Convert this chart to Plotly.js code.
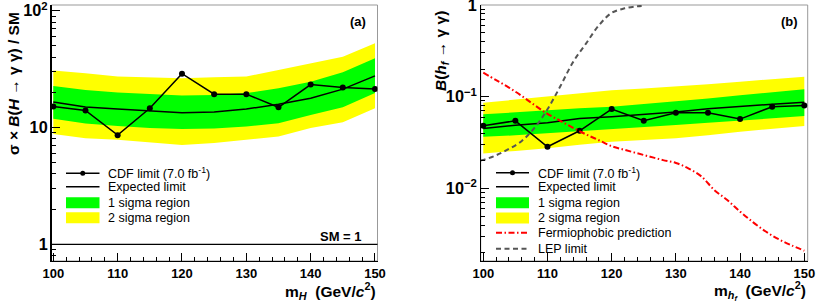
<!DOCTYPE html>
<html><head><meta charset="utf-8">
<script src="https://cdn.plot.ly/plotly-3.0.1.min.js"></script>
<style>html,body{margin:0;padding:0;background:#fff}#c{width:830px;height:305px}</style>
</head><body><div id="c"></div>
<script>
// ---- data ----
const mass = [100,105,110,115,120,125,130,135,140,145,150];
// panel (a)
const obsA  = [15.1,14.0,8.6,14.6,28.9,19.3,19.3,14.9,23.3,22.0,21.4];
const expA  = [16.5,15.0,14.4,13.9,13.4,13.6,14.4,15.8,17.8,21.3,27.7];
const s1upA = [22.7,21.0,19.9,19.3,18.8,19.0,19.7,21.7,24.7,29.7,39.2];
const s1loA = [11.9,10.8,10.3,9.9,9.7,9.8,10.2,10.9,12.8,14.9,19.7];
const s2upA = [30.7,29.2,27.3,27.0,26.4,27.0,27.3,31.1,35.5,40.4,52.6];
const s2loA = [8.78,8.11,7.85,7.45,7.07,7.36,7.85,8.38,9.88,11.1,14.6];
// panel (b)
const obsB  = [0.0483,0.0547,0.0285,0.0426,0.0734,0.0548,0.067,0.067,0.0571,0.0778,0.0805];
const expB  = [0.0452,0.049,0.052,0.058,0.0606,0.064,0.068,0.074,0.079,0.083,0.087];
const s1upB = [0.0643,0.068,0.0716,0.075,0.0778,0.083,0.0883,0.096,0.104,0.112,0.1205];
const s1loB = [0.0366,0.038,0.0399,0.042,0.044,0.0465,0.0491,0.052,0.0557,0.0585,0.0616];
const s2upB = [0.086,0.093,0.100,0.109,0.118,0.123,0.129,0.137,0.146,0.155,0.165];
const s2loB = [0.0241,0.0257,0.0274,0.030,0.0323,0.0337,0.0352,0.038,0.0416,0.0446,0.0479];
const fpMass = [100,102,104,106,108,110,112,114,116,118,120,122,124,126,128,130,132,134,136,138,140,142,144,146,148,150];
const fpVal  = [0.183,0.152,0.126,0.102,0.081,0.065,0.0547,0.0458,0.0389,0.0336,0.0289,0.0264,0.0242,0.0222,0.0204,0.019,0.0165,0.0135,0.0096,0.0075,0.0056,0.0043,0.0034,0.0028,0.0024,0.0021];
const lepMass = [99.6,100,102,104,106,108,110,112,114,116,118,120,122,124,125];
const lepVal  = [0.0202,0.0205,0.023,0.027,0.033,0.046,0.073,0.13,0.24,0.38,0.6,0.82,0.92,0.97,0.98];
const legA = ["CDF limit (7.0 fb<sup>-1</sup>)","Expected limit","1 sigma region","2 sigma region"];
const legB = ["CDF limit (7.0 fb<sup>-1</sup>)","Expected limit","1 sigma region","2 sigma region","Fermiophobic prediction","LEP limit"];

// ---- helpers ----
const W=830,H=305;
const px=x=>x/W, py=y=>1-y/H;
const FONT="Liberation Sans, Arial, sans-serif";
const GREEN="#00ff00", YELLOW="#ffff00";
const LEPDASH="5px,3.5px", FPDASH="6px,2.5px,1.5px,2.5px";
function band(up,lo,xa,ya,color){
  return {x:mass.concat(mass.slice().reverse()), y:up.concat(lo.slice().reverse()),
    fill:'toself', fillcolor:color, line:{width:0}, mode:'lines', xaxis:xa, yaxis:ya, hoverinfo:'skip', showlegend:false};
}
const traces=[
  band(s2upA,s2loA,'x','y',YELLOW), band(s1upA,s1loA,'x','y',GREEN),
  {x:mass,y:expA,mode:'lines',line:{color:'#000',width:1.5},xaxis:'x',yaxis:'y',showlegend:false},
  {x:mass,y:obsA,mode:'lines+markers',line:{color:'#000',width:1.5},marker:{color:'#000',size:6},xaxis:'x',yaxis:'y',showlegend:false},
  band(s2upB,s2loB,'x2','y2',YELLOW), band(s1upB,s1loB,'x2','y2',GREEN),
  {x:mass,y:expB,mode:'lines',line:{color:'#000',width:1.5},xaxis:'x2',yaxis:'y2',showlegend:false},
  {x:mass,y:obsB,mode:'lines+markers',line:{color:'#000',width:1.5},marker:{color:'#000',size:6},xaxis:'x2',yaxis:'y2',showlegend:false},
  {x:fpMass,y:fpVal,mode:'lines',line:{color:'#ff0000',width:2,dash:FPDASH,shape:'spline'},xaxis:'x2',yaxis:'y2',showlegend:false},
  {x:lepMass,y:lepVal,mode:'lines',line:{color:'#555555',width:2,dash:LEPDASH,shape:'spline'},xaxis:'x2',yaxis:'y2',showlegend:false}
];
const tickFont={family:FONT,size:13,color:'#000',weight:'bold'};
function xax(domain,range,anchor){return {domain:domain,range:range,anchor:anchor,showline:true,linecolor:'#000',linewidth:1.2,
  ticks:'inside',ticklen:8,tickwidth:1,tickcolor:'#000',tickmode:'linear',tick0:100,dtick:10,ticklabeloverflow:'allow',
  tickfont:tickFont,showgrid:false,zeroline:false,
  minor:{ticks:'inside',ticklen:4,tickwidth:1,dtick:2,tick0:100,tickcolor:'#000',showgrid:false}};}
function yax(domain,range,anchor){return {domain:domain,range:range,type:'log',anchor:anchor,showline:true,linecolor:'#000',linewidth:1.2,
  ticks:'inside',ticklen:8,tickwidth:1,tickcolor:'#000',tickmode:'linear',tick0:0,dtick:1,exponentformat:'power',ticklabeloverflow:'allow',
  tickfont:tickFont,showgrid:false,zeroline:false,
  minor:{ticks:'inside',ticklen:4,tickwidth:1,dtick:'D1',tickcolor:'#000',showgrid:false}};}
const yDom=[py(261),py(5)];
const layout={width:W,height:H,margin:{l:0,r:0,t:0,b:0},paper_bgcolor:'#fff',plot_bgcolor:'#fff',showlegend:false,
  font:{family:FONT,color:'#000'},
  xaxis:xax([px(51.5),px(377.5)],[99.72,150.39],'y'),
  yaxis:yax(yDom,[-0.143,2.049],'x'),
  xaxis2:xax([px(480.7),px(807.7)],[99.6,150.53],'y2'),
  yaxis2:yax(yDom,[-2.79,0],'x2'),
  shapes:[],annotations:[]};
const S=layout.shapes, A=layout.annotations;
// frames
S.push({type:'rect',xref:'x domain',yref:'y domain',x0:0,x1:1,y0:0,y1:1,line:{color:'#999',width:1},layer:'below'});
S.push({type:'rect',xref:'x2 domain',yref:'y2 domain',x0:0,x1:1,y0:0,y1:1,line:{color:'#999',width:1},layer:'below'});
// SM = 1 line
S.push({type:'line',xref:'x domain',yref:'y',x0:0,x1:1,y0:1,y1:1,line:{color:'#000',width:1.3}});
// legends
function legend(x0,x1,tx,rows,labels){
  labels.forEach((lab,i)=>{
    const y=rows[i];
    const ln=(c,w,d)=>S.push({type:'line',xref:'paper',yref:'paper',x0:px(x0),x1:px(x1),y0:py(y),y1:py(y),line:{color:c,width:w,dash:d||'solid'}});
    if(i===0){ln('#000',1.5);
      S.push({type:'circle',xref:'paper',yref:'paper',x0:px((x0+x1)/2-2.5),x1:px((x0+x1)/2+2.5),y0:py(y-2.5),y1:py(y+2.5),fillcolor:'#000',line:{color:'#000',width:0}});}
    else if(i===1){ln('#000',1.5);}
    else if(i===2||i===3){S.push({type:'rect',xref:'paper',yref:'paper',x0:px(x0),x1:px(x1),y0:py(y-5.5),y1:py(y+5.5),fillcolor:i===2?GREEN:YELLOW,line:{width:0}});}
    else if(i===4){ln('#ff0000',2,FPDASH);}
    else {ln('#555',2,LEPDASH);}
    A.push({xref:'paper',yref:'paper',x:px(tx),y:py(y),xanchor:'left',yanchor:'middle',showarrow:false,text:lab,font:{family:FONT,size:12.5,color:'#000'}});
  });
}
legend(66,99.5,106,[173.3,186.7,202.8,217.8],legA);
legend(496,529,536,[172.7,186.7,202.8,218,232.7,248.7],legB);
// labels
const bold=(t,s,x,y,xa,ya,ang)=>A.push({xref:'paper',yref:'paper',x:px(x),y:py(y),xanchor:xa||'center',yanchor:ya||'middle',showarrow:false,text:t,textangle:ang||0,font:{family:FONT,size:s,color:'#000',weight:'bold'}});
bold('(a)',13,368,22,'right');
bold('(b)',13,800,21,'right');
bold('SM = 1',13,364,236,'right');
bold('m<sub><i>H</i></sub>  (GeV/<i>c</i><sup>2</sup>)',15.5,378,291,'right');
bold('m<sub><i>h<sub>f</sub></i></sub>  (GeV/<i>c</i><sup>2</sup>)',15.5,808,291,'right');
bold('σ × <i>B</i>(<i>H</i> → γ γ) / SM',15.5,13,84,'center','middle',-90);
bold('<i>B</i>(<i>h<sub>f</sub></i> → γ γ)',15.5,441,51,'center','middle',-90);
Plotly.newPlot('c',traces,layout,{staticPlot:true,displayModeBar:false});
</script></body></html>
